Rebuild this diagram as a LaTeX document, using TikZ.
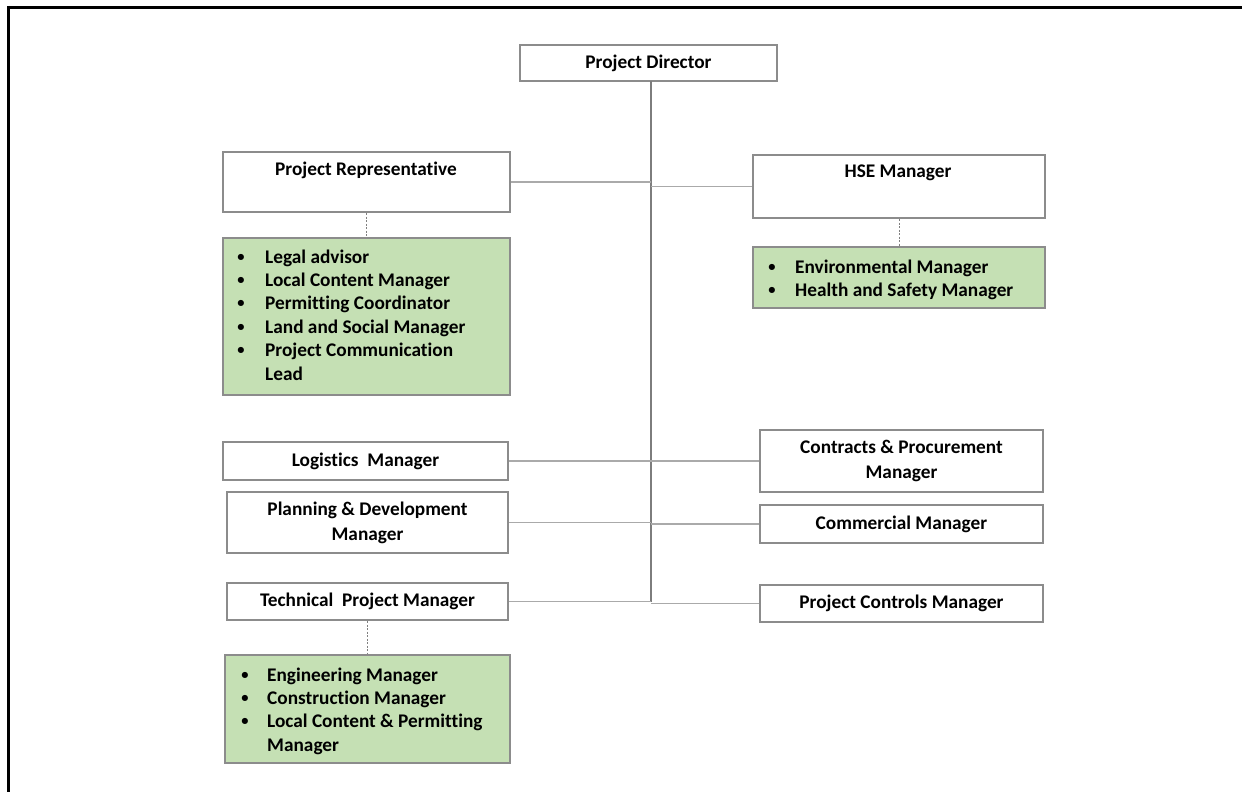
\documentclass[tikz,border=0pt]{standalone}
\usepackage{fontspec}
\setmainfont{Carlito}[Ligatures=NoCommon]
\usetikzlibrary{shadows}
\definecolor{boxgray}{RGB}{140,140,140}
\definecolor{linegray}{RGB}{170,170,170}
\definecolor{spinegray}{RGB}{125,125,125}
\definecolor{greenfill}{RGB}{197,224,180}
\begin{document}
\begin{tikzpicture}[x=1pt,y=-1pt,
  box/.style={draw=boxgray, line width=2pt, fill=white,
    drop shadow={shadow xshift=1pt, shadow yshift=-1pt, opacity=0.25},
    inner sep=0pt, align=center,
    font=\fontsize{19.3}{25}\selectfont\bfseries},
  greenbox/.style={box, fill=greenfill},
  boxlabel/.style={inner sep=0pt, font=\fontsize{19.3}{25}\selectfont\bfseries},
  listtext/.style={inner sep=0pt, anchor=base west, align=left,
    font=\fontsize{19.3}{23.4}\selectfont\bfseries},
  bul/.style={inner sep=0pt, anchor=center, font=\fontsize{14.5}{14.5}\selectfont\bfseries},
  conn/.style={draw=linegray, line width=1.6pt},
  spine/.style={draw=spinegray, line width=2pt},
  dotconn/.style={draw=gray, line width=0.7pt, dash pattern=on 2pt off 1.5pt},
  frame/.style={draw=black, line width=3pt}]
\useasboundingbox (0,0) rectangle (1242,792);
% frame (top and left edges)
\draw[frame] (7,7.5) -- (1242,7.5);
\draw[frame] (8.5,6) -- (8.5,792);

% boxes
\node[box, minimum width=257pt, minimum height=36pt] (pd) at (648.5,63) {Project Director};
\node[box, minimum width=287pt, minimum height=60pt] (pr) at (366.5,182) {};
\node[boxlabel] (prt) at (366,170) {Project Representative};
\node[box, minimum width=292pt, minimum height=63pt] (hse) at (899,186.5) {};
\node[boxlabel] (hset) at (898,173) {HSE Manager};
\node[greenbox, minimum width=287pt, minimum height=157pt] (prg) at (366.5,316.5) {};
\node[greenbox, minimum width=292pt, minimum height=61pt] (hseg) at (899,277.5) {};
\node[box, minimum width=285pt, minimum height=38pt] (log) at (365.5,461) {Logistics\ \ Manager};
\node[box, minimum width=281pt, minimum height=61pt] (pdm) at (367.5,522.5) {Planning \& Development\\Manager};
\node[box, minimum width=281pt, minimum height=37pt] (tpm) at (367.5,601.5) {Technical\ \ Project Manager};
\node[greenbox, minimum width=285pt, minimum height=108pt] (tpg) at (367.5,709) {};
\node[box, minimum width=283pt, minimum height=62pt] (cpm) at (901.5,461) {Contracts \& Procurement\\Manager};
\node[box, minimum width=283pt, minimum height=38pt] (com) at (901.5,524) {Commercial Manager};
\node[box, minimum width=283pt, minimum height=37pt] (pcm) at (901.5,603.5) {Project Controls Manager};

% lists: text
\node[listtext] (prl) at (265,263) {\begin{tabular}[t]{@{}l@{}}
Legal advisor\\
Local Content Manager\\
Permitting Coordinator\\
Land and Social Manager\\
Project Communication\\
Lead
\end{tabular}};
\node[listtext] (hsel) at (795,273) {\begin{tabular}[t]{@{}l@{}}
Environmental Manager\\
Health and Safety Manager
\end{tabular}};
\node[listtext] (tpl) at (267,681) {\begin{tabular}[t]{@{}l@{}}
Engineering Manager\\
Construction Manager\\
Local Content \& Permitting\\
Manager
\end{tabular}};
% lists: bullets
\node[bul] (pb1) at (241,257.5) {\textbullet};
\node[bul] (pb2) at (241,280.9) {\textbullet};
\node[bul] (pb3) at (241,304.3) {\textbullet};
\node[bul] (pb4) at (241,327.7) {\textbullet};
\node[bul] (pb5) at (241,351.1) {\textbullet};
\node[bul] (hb1) at (772,267.5) {\textbullet};
\node[bul] (hb2) at (772,290.9) {\textbullet};
\node[bul] (tb1) at (245,675.5) {\textbullet};
\node[bul] (tb2) at (245,698.9) {\textbullet};
\node[bul] (tb3) at (245,722.3) {\textbullet};

% spine
\coordinate (stop) at (651,81);
\coordinate (sbot) at (651,602);
\draw[spine] (stop) -- (sbot);

% connectors
\draw[conn] (pr.east) -- (pr.east -| stop);
\draw[conn] (hse.west) -- (hse.west -| stop);
\draw[conn] (log.east) -- (log.east -| stop);
\draw[conn] (cpm.west) -- (cpm.west -| stop);
\draw[conn] (pdm.east) -- (pdm.east -| stop);
\draw[conn] (com.west) -- (com.west -| stop);
\draw[conn] (tpm.east) -- (tpm.east -| stop);
\draw[conn] (pcm.west) -- (pcm.west -| stop);

% dotted links
\draw[dotconn] (pr.south) -- (prg.north);
\draw[dotconn] (hse.south) -- (hseg.north);
\draw[dotconn] (tpm.south) -- (tpg.north);
\end{tikzpicture}
\end{document}
